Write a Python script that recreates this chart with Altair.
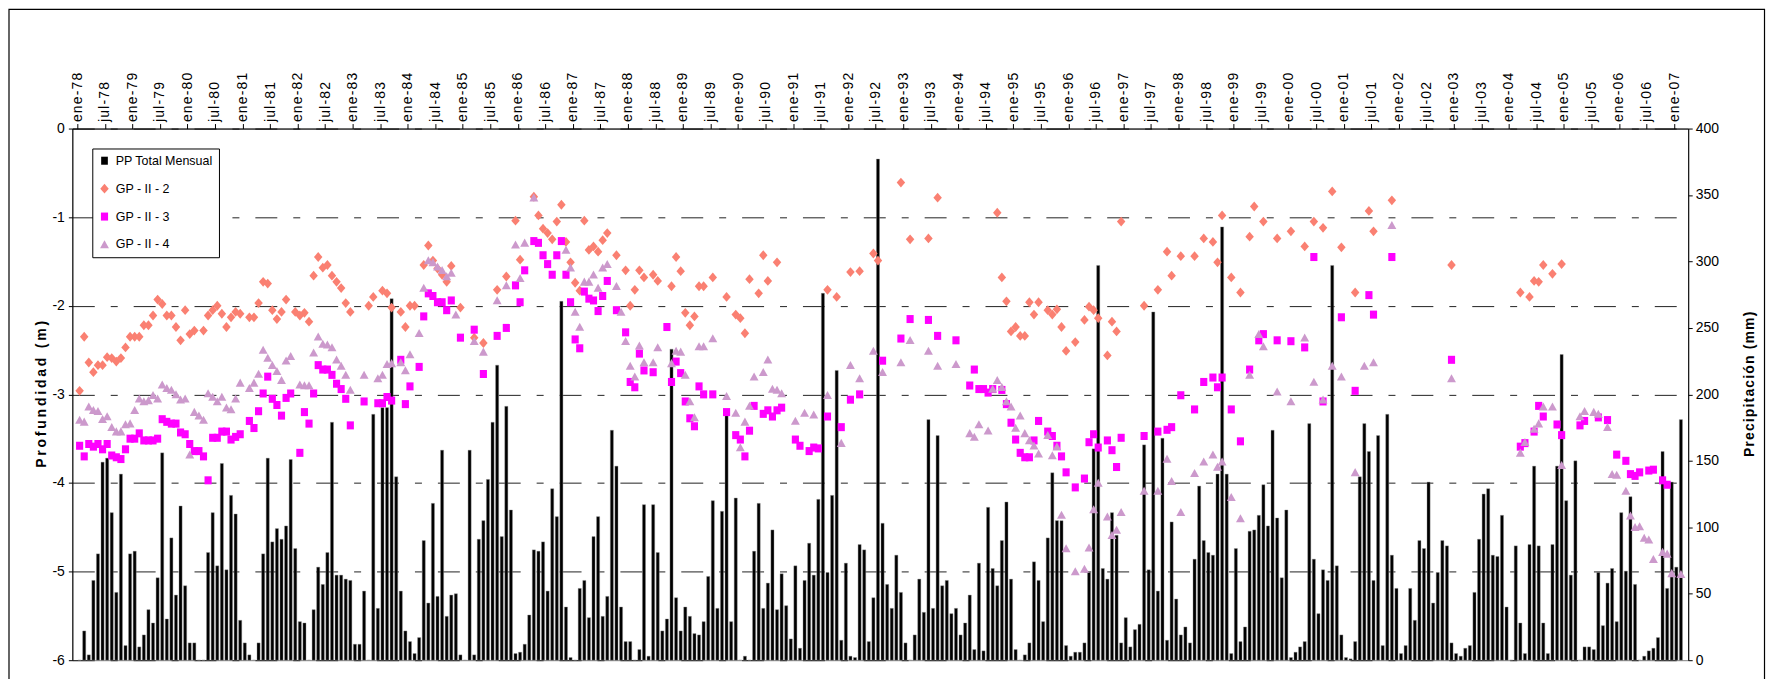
import altair as alt
import pandas as pd

# ---------------- data ----------------
# Monthly total precipitation (mm), month index 0 = ene-78 ... 349 = feb-07
PP_MENSUAL = [
    0, 22, 4, 60, 80, 149, 152, 111, 51, 140, 11, 80,
    82, 10, 19, 38, 28, 62, 156, 31, 92, 49, 116, 56,
    13, 13, 0, 0, 81, 111, 71, 148, 68, 124, 110, 30,
    13, 4, 0, 13, 80, 152, 89, 99, 91, 101, 151, 84,
    29, 28, 0, 38, 70, 57, 81, 179, 64, 64, 61, 60,
    12, 12, 52, 0, 185, 39, 190, 190, 272, 138, 52, 22,
    14, 5, 17, 90, 43, 118, 48, 158, 33, 49, 50, 4,
    0, 158, 4, 91, 105, 136, 179, 222, 93, 191, 113, 5,
    6, 12, 34, 83, 82, 89, 52, 129, 108, 270, 40, 2,
    0, 54, 60, 32, 93, 108, 33, 48, 173, 146, 40, 14,
    14, 0, 8, 117, 3, 117, 81, 22, 31, 234, 47, 22,
    40, 33, 20, 19, 29, 63, 120, 39, 112, 184, 29, 122,
    0, 3, 0, 82, 118, 39, 58, 98, 38, 65, 41, 16,
    71, 9, 60, 88, 64, 121, 276, 66, 124, 218, 15, 73,
    3, 2, 87, 83, 14, 47, 377, 103, 57, 39, 79, 51,
    13, 0, 19, 61, 36, 181, 39, 169, 56, 60, 35, 39,
    19, 28, 49, 8, 73, 7, 115, 69, 56, 90, 119, 61,
    8, 0, 4, 13, 74, 60, 29, 92, 141, 105, 105, 11,
    3, 6, 6, 13, 66, 159, 297, 69, 61, 111, 94, 13,
    32, 10, 23, 27, 162, 68, 262, 52, 167, 15, 104, 46,
    19, 25, 13, 76, 131, 90, 81, 79, 140, 326, 140, 5,
    84, 14, 25, 97, 98, 109, 132, 101, 173, 107, 62, 113,
    2, 6, 10, 14, 178, 76, 35, 68, 60, 297, 71, 19,
    2, 1, 14, 138, 178, 157, 60, 169, 11, 185, 79, 54,
    5, 11, 54, 30, 90, 84, 134, 43, 66, 90, 86, 13,
    5, 3, 9, 11, 51, 91, 125, 129, 79, 78, 109, 40,
    0, 86, 28, 5, 87, 146, 86, 28, 5, 87, 146, 230,
    120, 64, 150, 0, 10, 10, 8, 66, 26, 58, 69, 29,
    111, 67, 123, 57, 0, 3, 7, 9, 17, 157, 54, 134,
    70, 181,
]

# GP - II - 2 : month index and depth (m)
GP2_MES = [
    0, 1, 2, 3, 4, 5, 6, 7, 8, 9, 10, 11, 12, 13, 14, 15, 16, 17, 18, 19, 20, 21, 22, 23, 24, 25,
    27, 28, 29, 30, 31, 32, 33, 34, 35, 37, 38, 39, 40, 41, 42, 43, 44, 45, 47, 48, 49, 50,
    51, 52, 53, 54, 55, 56, 57, 58, 59, 63, 64, 66, 67, 68, 70, 71, 72, 73, 75, 76, 77, 78,
    79, 80, 81, 83, 86, 88, 91, 93, 95, 96, 99, 100, 101, 102, 103, 104, 105, 106, 107, 108,
    109, 110, 111, 112, 113, 114, 115, 117, 119, 120, 121, 122, 123, 125, 126, 129, 130, 131,
    132, 133, 134, 135, 136, 138, 141, 143, 144, 145, 146, 148, 149, 150, 152, 163, 165, 168,
    170, 173, 174, 179, 181, 185, 187, 200, 201, 202, 203, 204, 205, 206, 207, 208, 209, 211,
    212, 213, 214, 215, 217, 219, 220, 221, 222, 224, 225, 226, 227, 232, 235, 237, 238, 240,
    243, 245, 247, 248, 249, 251, 253, 255, 256, 258, 261, 264, 267, 269, 271, 273, 275, 278,
    281, 282, 286, 299, 314, 316, 317, 318, 319, 321, 323,
]
GP2_PROF = [
    -2.96, -2.35, -2.64, -2.75, -2.67, -2.67, -2.58, -2.59, -2.63, -2.59, -2.47, -2.35, -2.35,
    -2.35, -2.22, -2.22, -2.11, -1.93, -1.98, -2.11, -2.11, -2.24, -2.39, -2.05, -2.32, -2.28,
    -2.28, -2.11, -2.05, -2.00, -2.09, -2.24, -2.13, -2.07, -2.09, -2.13, -2.13, -1.97, -1.73,
    -1.75, -2.05, -2.15, -2.07, -1.93, -2.07, -2.11, -2.08, -2.18,
    -1.66, -1.45, -1.57, -1.54, -1.66, -1.73, -1.80, -1.97, -2.07, -2.00, -1.90, -1.83, -1.86,
    -2.02, -2.07, -2.24, -2.00, -2.00, -1.54, -1.32, -1.49, -1.58,
    -1.65, -1.73, -1.55, -2.02, -2.36, -2.42, -1.82, -1.67, -1.04, -1.48, -0.77, -0.98, -1.13,
    -1.18, -1.25, -1.05, -0.86, -1.28, -1.51, -1.74,
    -1.83, -1.04, -1.37, -1.33, -1.39, -1.26, -1.18, -1.43, -1.60, -2.00, -1.82, -1.60, -1.68,
    -1.65, -1.72, -1.78, -1.45, -1.61,
    -2.08, -2.22, -2.12, -1.78, -1.78, -1.68, -1.90, -2.10, -2.14, -2.31, -1.70, -1.86, -1.43,
    -1.72, -1.51, -1.82, -1.90, -1.62,
    -1.61, -1.41, -1.49, -0.61, -1.25, -1.24, -0.78, -0.95, -1.68, -1.95, -2.29, -2.24, -2.34,
    -2.34, -1.96, -2.10, -1.96, -2.05,
    -2.10, -2.04, -2.24, -2.51, -2.41, -2.16, -2.01, -2.05, -2.14, -2.56, -2.18, -2.29, -1.05,
    -2.00, -1.82, -1.39, -1.66, -1.44,
    -1.44, -1.24, -1.28, -1.51, -0.98, -1.68, -1.85, -1.22, -0.88, -1.05, -1.24, -1.16, -1.33,
    -1.05, -1.12, -0.71, -1.34, -1.85,
    -0.93, -1.16, -0.81, -1.54, -1.85, -1.90, -1.72, -1.73, -1.54, -1.64, -1.53,
]

# GP - II - 3
GP3_MES = [
    0, 1, 2, 3, 4, 5, 6, 7, 8, 9, 10, 11, 12, 13, 14, 15, 16, 17, 18, 19, 20, 21, 22, 23, 24, 25,
    26, 27, 28, 29, 30, 31, 32, 33, 34, 35, 37, 38, 39, 40, 41, 42, 43, 44, 45, 46, 48, 49, 50,
    51, 52, 53, 54, 55, 56, 57, 58, 59, 62, 65, 66, 67, 68, 70, 71, 72, 74, 75, 76, 77, 78, 79,
    80, 81, 83, 86, 88, 91, 93, 95, 96, 97, 99, 100, 101, 102, 103, 104, 105, 106, 107, 108,
    109, 110, 111, 112, 113, 114, 115, 117, 119, 120, 121, 122, 123, 125, 128, 129, 130, 131,
    132, 133, 134, 135, 136, 138, 141, 143, 144, 145, 146, 147, 149, 150, 151, 152, 153, 156,
    157, 159, 160, 161, 163, 166, 168, 170, 175, 179, 181, 185, 187, 191, 194, 195, 196, 197,
    198, 199, 201, 202, 203, 204, 205, 206, 207, 208, 209, 211, 212, 213, 214, 215, 217, 219,
    220, 221, 222, 224, 225, 226, 227, 232, 235, 237, 238, 240, 243, 245, 247, 248, 249, 251,
    253, 255, 257, 258, 261, 264, 267, 269, 271, 275, 278, 281, 282, 286, 299, 314, 315, 317,
    318, 319, 322, 323, 327, 328, 331, 333, 335, 337, 338, 339, 340, 342, 343, 345, 346,
]
GP3_PROF = [
    -3.58, -3.70, -3.56, -3.59, -3.56, -3.62, -3.56, -3.69, -3.71, -3.73, -3.62, -3.50, -3.50,
    -3.44, -3.52, -3.52, -3.52, -3.50, -3.28, -3.31, -3.33, -3.33, -3.43, -3.45, -3.56, -3.64,
    -3.64, -3.70, -3.97, -3.49, -3.49, -3.42, -3.42, -3.51, -3.48, -3.45, -3.30, -3.38, -3.19,
    -2.99, -2.80, -3.05, -3.12, -3.24, -3.04, -2.99, -3.66, -3.20, -3.33,
    -2.99, -2.67, -2.72, -2.72, -2.78, -2.88, -2.94, -3.05, -3.35, -3.08, -3.10, -3.10, -3.03,
    -3.07, -2.61, -3.11, -2.91, -2.69, -2.12, -1.86, -1.89, -1.96, -1.96,
    -2.05, -1.94, -2.36, -2.27, -2.77, -2.34, -2.25, -1.77, -1.96, -1.60, -1.27, -1.29, -1.43,
    -1.53, -1.65, -1.43, -1.27, -1.65, -1.96, -2.38,
    -2.48, -1.84, -1.92, -1.94, -2.06, -1.89, -1.72, -2.05, -2.30, -2.86, -2.92, -2.54, -2.73,
    -2.75, -2.24, -2.86, -2.63, -2.76,
    -3.08, -3.27, -3.36, -2.91, -3.00, -3.00, -3.20, -3.46, -3.51, -3.70, -3.41, -3.13, -3.22,
    -3.18, -3.25, -3.18, -3.15, -3.51,
    -3.58, -3.64, -3.60, -3.61, -3.25, -3.37, -3.06, -3.00, -2.62, -2.37, -2.15, -2.16, -2.34,
    -2.39, -2.90, -2.72, -2.94, -2.94,
    -2.98, -2.94, -2.95, -3.11, -3.32, -3.51, -3.66, -3.71, -3.71, -3.52, -3.30, -3.42, -3.47,
    -3.58, -3.70, -3.88, -4.05, -3.95,
    -3.54, -3.45, -3.60, -3.52, -3.63, -3.82, -3.49, -3.47, -3.42, -3.40, -3.37, -3.01, -3.17,
    -2.86, -2.81, -2.92, -2.81, -3.17,
    -3.53, -2.72, -2.39, -2.32, -2.39, -2.40, -2.47, -1.45, -3.08, -2.13, -2.96, -1.88, -2.10,
    -1.45, -2.61, -3.59, -3.55, -3.42,
    -3.13, -3.25, -3.34, -3.46, -3.35, -3.30, -3.26, -3.29, -3.68, -3.75, -3.90, -3.92, -3.88,
    -3.86, -3.85, -3.97, -4.02,
]

# GP - II - 4
GP4_MES = [
    0, 1, 2, 3, 4, 5, 6, 7, 8, 9, 10, 11, 12, 13, 14, 15, 16, 17, 18, 19, 20, 21, 22, 23, 24, 25,
    26, 27, 28, 29, 30, 31, 32, 33, 34, 35, 37, 38, 39, 40, 41, 42, 43, 44, 45, 46, 48, 49, 50,
    51, 52, 53, 54, 55, 56, 57, 58, 59, 62, 65, 66, 67, 68, 70, 71, 72, 74, 75, 76, 77, 78, 79,
    80, 81, 82, 86, 88, 91, 93, 95, 96, 97, 99, 106, 107, 108, 109, 110, 111, 112, 113, 114,
    115, 117, 118, 119, 120, 121, 122, 123, 125, 126, 129, 130, 131, 132, 133, 134, 135, 136,
    138, 141, 143, 144, 145, 146, 147, 149, 150, 151, 152, 153, 156, 158, 160, 163, 166, 168,
    170, 173, 175, 179, 181, 185, 187, 191, 194, 195, 196, 198, 199, 200, 201, 202, 203, 204,
    205, 206, 207, 208, 209, 211, 212, 213, 214, 215, 217, 219, 220, 221, 222, 224, 225, 226,
    227, 232, 235, 237, 238, 240, 243, 245, 247, 248, 249, 251, 253, 255, 257, 258, 261, 264,
    267, 269, 271, 273, 275, 278, 280, 282, 286, 299, 314, 315, 317, 318, 319, 321, 323, 327,
    328, 330, 331, 333, 334, 335, 337, 338, 339, 340, 341, 342, 343, 345, 346, 347, 349,
]
GP4_PROF = [
    -3.29, -3.31, -3.14, -3.18, -3.19, -3.28, -3.25, -3.37, -3.42, -3.42, -3.34, -3.33, -3.18,
    -3.05, -3.08, -3.07, -3.01, -3.05, -2.89, -2.93, -2.95, -3.00, -3.06, -3.05, -3.68, -3.20,
    -3.24, -3.29, -2.99, -3.03, -3.08, -3.03, -3.15, -3.17, -3.05, -2.87, -2.93, -2.87, -2.77,
    -2.50, -2.59, -2.67, -2.74, -2.84, -2.62, -2.57, -2.89, -2.90, -2.90,
    -2.53, -2.35, -2.43, -2.44, -2.47, -2.61, -2.68, -2.78, -2.95, -2.78, -2.82, -2.78, -2.66,
    -2.65, -2.64, -2.73, -2.55, -2.31, -1.80, -1.49, -1.51, -1.56, -1.60,
    -1.67, -1.63, -2.10, -2.40, -2.52, -1.94, -1.77, -1.31, -1.69, -1.29, -0.78, -1.37, -1.57,
    -2.07, -2.24, -1.73, -1.73, -1.65, -1.80, -1.57,
    -1.53, -1.78, -2.07, -2.40, -2.68, -2.80, -2.45, -2.64, -2.64, -2.47, -2.65, -2.51, -2.52,
    -2.78, -3.08, -3.26, -2.46, -2.46,
    -2.37, -3.02, -3.21, -3.60, -3.31, -3.13, -2.80, -2.75, -2.61, -2.94, -2.95, -2.99, -3.30,
    -3.21, -3.23, -3.01, -3.55, -2.67,
    -2.82, -2.51, -2.75, -2.64, -2.39, -2.51, -2.68, -2.66, -3.44, -3.48, -3.34, -3.41, -2.94,
    -2.84, -2.92, -3.08, -3.14, -3.38,
    -3.24, -3.44, -3.52, -3.58, -3.67, -3.46, -3.69, -3.59, -4.36, -4.74, -5.00, -4.97, -4.73,
    -4.30, -4.00, -4.38, -4.59, -4.53,
    -4.33, -4.09, -4.09, -3.73, -3.98, -4.33, -3.89, -3.76, -3.68, -3.82, -3.76, -4.16, -4.40,
    -2.78, -2.32, -2.46, -2.97, -3.08,
    -2.36, -2.86, -3.06, -2.68, -2.80, -3.88, -2.68, -2.64, -1.09, -2.82, -3.66, -3.54, -3.39,
    -3.33, -3.14, -3.14, -3.80, -3.25,
    -3.19, -3.20, -3.22, -3.37, -3.90, -3.91, -4.09, -4.37, -4.50, -4.49, -4.62, -4.64, -4.86,
    -4.78, -4.80, -5.02, -5.03,
]

TICK_LABELS = [
    "ene-78", "jul-78", "ene-79", "jul-79", "ene-80", "jul-80", "ene-81", "jul-81",
    "ene-82", "jul-82", "ene-83", "jul-83", "ene-84", "jul-84", "ene-85", "jul-85",
    "ene-86", "jul-86", "ene-87", "jul-87", "ene-88", "jul-88", "ene-89", "jul-89",
    "ene-90", "jul-90", "ene-91", "jul-91", "ene-92", "jul-92", "ene-93", "jul-93",
    "ene-94", "jul-94", "ene-95", "jul-95", "ene-96", "jul-96", "ene-97", "jul-97",
    "ene-98", "jul-98", "ene-99", "jul-99", "ene-00", "jul-00", "ene-01", "jul-01",
    "ene-02", "jul-02", "ene-03", "jul-03", "ene-04", "jul-04", "ene-05", "jul-05",
    "ene-06", "jul-06", "ene-07",
]

SERIES = ["PP Total Mensual", "GP - II - 2", "GP - II - 3", "GP - II - 4"]
COLORS = ["#000000", "#FA8072", "#FF00FF", "#CC99CC"]
SHAPES = [
    "M-0.75,-0.9H0.75V0.9H-0.75Z",         # black box for precipitation
    "M0,-1.1L0.95,0L0,1.1L-0.95,0Z",       # diamond
    "M-0.8,-0.9H0.8V0.9H-0.8Z",            # square
    "M-1,0.85L0,-0.95L1,0.85Z",            # triangle
]

# ---------------- build tables ----------------
df_pp = pd.DataFrame({"mc": [i + 0.5 for i in range(len(PP_MENSUAL))], "pp": PP_MENSUAL})
rows = []
for name, meses, prof in [(SERIES[1], GP2_MES, GP2_PROF), (SERIES[2], GP3_MES, GP3_PROF),
                          (SERIES[3], GP4_MES, GP4_PROF)]:
    for m, p in zip(meses, prof):
        rows.append({"mc": m + 0.5, "prof": p, "serie": name})
df_pts = pd.DataFrame(rows)

W, H = 1620, 533
NARROW = "Liberation Sans Narrow, Arial Narrow, Liberation Sans, Arial, sans-serif"
SANS = "Liberation Sans, Arial, sans-serif"
HS = "\u200a"


def spaced(s, sep=HS):
    return sep.join(list(s))


label_array = "[" + ",".join("'" + spaced(t) + "'" for t in TICK_LABELS) + "]"
xscale = alt.Scale(domain=[0, 350], nice=False, zero=False)


def x_axis():
    return alt.Axis(
        orient="top", values=list(range(0, 349, 6)),
        labelExpr=label_array + "[round(datum.value / 6)]",
        labelAngle=270, labelFont=SANS, labelFontSize=14, labelColor="black",
        labelOverlap=False, labelFlush=False, labelBound=False, labelPadding=2,
        tickSize=5, tickColor="black", domainColor="black", grid=False, title="")


def legend():
    return alt.Legend(title=None, orient="none", legendX=20, legendY=20,
                      fillColor="white", strokeColor="black", padding=6,
                      rowPadding=15, symbolSize=80, labelFont=NARROW,
                      labelFontSize=12.5, labelColor="black", labelOffset=5,
                      symbolStrokeWidth=0, labelLimit=200)


bars = alt.Chart(df_pp).mark_bar(size=3.1, color="black", stroke="#8a8a8a", strokeWidth=0.4).encode(
    x=alt.X("mc:Q", scale=xscale, axis=x_axis()),
    y=alt.Y("pp:Q", scale=alt.Scale(domain=[0, 400], nice=False), axis=alt.Axis(
        orient="right", values=list(range(0, 401, 50)), grid=False,
        labelFont=NARROW, labelFontSize=14, labelColor="black", labelPadding=3,
        tickSize=4, tickColor="black", domainColor="black",
        title=spaced("Precipitación (mm)"), titleFont=SANS, titleFontSize=14,
        titleFontWeight="bold", titleAngle=270, titleAlign="center", titleBaseline="middle",
        titleX=61, titleY=256)),
)

pts = alt.Chart(df_pts).mark_point(filled=True, opacity=1, size=80).encode(
    x=alt.X("mc:Q", scale=xscale, axis=x_axis()),
    y=alt.Y("prof:Q", scale=alt.Scale(domain=[-6, 0], nice=False, zero=False), axis=alt.Axis(
        orient="left", values=[-6, -5, -4, -3, -2, -1, 0], labelExpr="'' + datum.value",
        grid=True, gridDash=[22, 16, 7, 16], gridColor="#222222", gridWidth=1,
        labelFont=NARROW, labelFontSize=14, labelColor="black", labelPadding=4,
        tickSize=4, tickColor="black", domainColor="black",
        title=spaced("Profundidad (m)", "\u2009"), titleFont=SANS, titleFontSize=14,
        titleFontWeight="bold", titleAngle=270, titleAlign="center", titleBaseline="middle",
        titleX=-31, titleY=266)),
    color=alt.Color("serie:N", scale=alt.Scale(domain=SERIES, range=COLORS), legend=legend()),
    shape=alt.Shape("serie:N", scale=alt.Scale(domain=SERIES, range=SHAPES), legend=legend()),
)

frame = alt.Chart(pd.DataFrame({"a": [0]})).mark_rect(
    filled=False, stroke="black", strokeWidth=1.2, fillOpacity=0
).encode(
    x=alt.value(-63.5), x2=alt.value(W + 76.5),
    y=alt.value(-119.5), y2=alt.value(H + 60),
)

chart = alt.layer(bars, pts, frame).resolve_scale(y="independent").properties(
    width=W, height=H,
    autosize=alt.AutoSizeParams(type="none"),
    padding={"left": 64.5, "top": 120, "right": 80, "bottom": 18},
    background="white",
).configure_view(stroke="#808080", strokeWidth=1)

chart.save("out.html", embed_options={"renderer": "svg", "actions": False})
